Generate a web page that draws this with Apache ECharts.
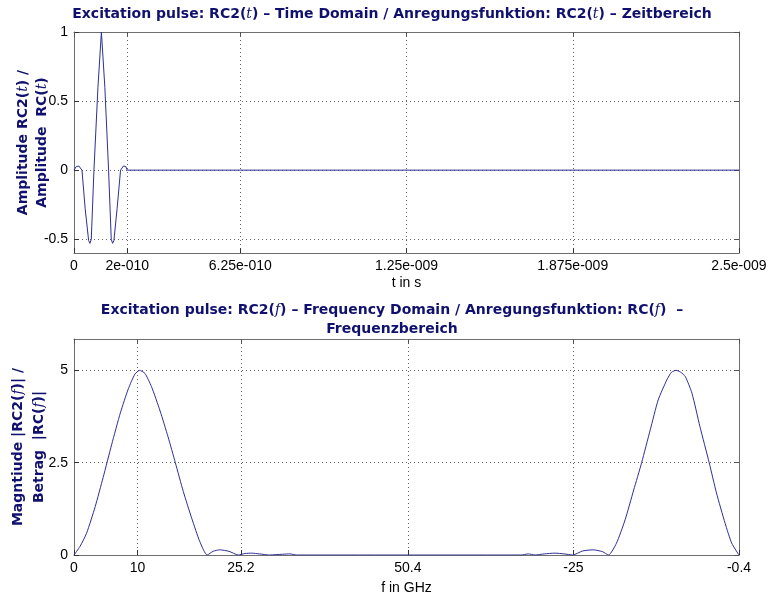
<!DOCTYPE html>
<html>
<head>
<meta charset="utf-8">
<script src="https://cdn.jsdelivr.net/npm/echarts@6/dist/echarts.min.js"></script>
<style>
  html, body { margin: 0; padding: 0; background: #fff; }
  #chart { width: 773px; height: 598px; }
</style>
</head>
<body>
<div id="chart"></div>
<script>
// time domain pulse RC2(t) (t in s)
const pulseTime = [0, 0.08e-10, 0.18e-10, 0.3e-10, 0.42e-10, 0.55e-10, 0.6e-10, 0.65e-10, 0.75e-10,
  0.9e-10, 1.03e-10, 1.16e-10, 1.3e-10, 1.4e-10, 1.45e-10, 1.5e-10, 1.62e-10, 1.75e-10,
  1.86e-10, 1.95e-10, 2.0e-10, 2.5e-9];
const pulseAmp = [0, 0.025, 0.03, 0, -0.28, -0.51, -0.53, -0.5, 0,
  0.6, 1.0, 0.6, 0, -0.5, -0.53, -0.51, -0.28, 0,
  0.03, 0.025, 0, 0];

// magnitude spectrum |RC2(f)|, f in GHz
const specFreq = [0, 0.9, 1.9, 3.2, 4.4, 5.7, 7.0, 8.2, 9.2, 9.9, 10.7, 11.7, 13.0, 14.2, 15.3,
  16.5, 17.8, 19.0, 20.1, 21.0, 22.0, 23.4, 24.8, 25.8, 26.8, 28.0, 29.5, 31.5, 32.6, 33.6,
  67.5, 68.6, 69.6, 71.0, 72.6, 74.0, 75.3, 76.8, 78.4, 79.8, 80.7, 81.9, 83.2, 84.5, 85.7,
  87.0, 88.2, 89.5, 90.2, 90.9, 91.6, 92.3, 93.3, 94.5, 95.9, 97.0, 98.3, 99.3, 100.4];
const specMag = [0, 0.23, 0.59, 1.31, 2.1, 3.0, 3.85, 4.5, 4.9, 5.0, 4.92, 4.56, 3.9, 3.2, 2.5,
  1.72, 0.98, 0.36, 0, 0.1, 0.14, 0.1, 0, 0.04, 0.05, 0.03, 0, 0.02, 0.03, 0,
  0, 0.03, 0, 0.03, 0.05, 0.03, 0, 0.11, 0.14, 0.09, 0, 0.32, 0.95, 1.76, 2.5,
  3.39, 4.2, 4.74, 4.95, 5.0, 4.95, 4.83, 4.38, 3.48, 2.5, 1.68, 0.86, 0.32, 0];

// tick positions and their labels
const timeTicks = [0, 2e-10, 6.25e-10, 1.25e-9, 1.875e-9, 2.5e-9];
const timeTickLabels = ['0', '2e-010', '6.25e-010', '1.25e-009', '1.875e-009', '2.5e-009'];
const ampTicks = [-0.5, 0, 0.5, 1];
const ampTickLabels = ['-0.5', '0', '0.5', '1'];
const freqTicks = [0, 9.6, 25.2, 50.4, 75.4, 100.4];
const freqTickLabels = ['0', '10', '25.2', '50.4', '-25', '-0.4'];
const magTicks = [0, 2.5, 5];
const magTickLabels = ['0', '2.5', '5'];

const navy = '#10106e';
const lineColor = '#2e2e96';
const frameColor = '#6e6e6e';
const titleFont = 'DejaVu Sans';

const italic = { fontStyle: 'italic', fontWeight: 'normal', fontFamily: 'DejaVu Serif', fontSize: 14, color: navy };

function labelFor(ticks, labels) {
  return v => {
    const i = ticks.findIndex(t => Math.abs(t - v) <= Math.abs(t) * 1e-6 + 1e-20);
    return i >= 0 ? labels[i] : '';
  };
}

function mainX(grid, min, max, ticks, labels, name, gap) {
  return {
    type: 'value', gridIndex: grid, min, max, position: 'bottom',
    name, nameLocation: 'middle', nameGap: gap, nameMoveOverlap: false,
    nameTextStyle: { fontFamily: 'Liberation Sans', fontSize: 14, color: '#000' },
    axisLine: { onZero: false, lineStyle: { color: frameColor } },
    axisTick: { inside: true, length: 5, customValues: ticks, lineStyle: { color: '#333' } },
    axisLabel: { customValues: ticks, formatter: labelFor(ticks, labels), margin: 6,
      fontFamily: 'Liberation Sans', fontSize: 14, color: '#000' },
    splitLine: { show: true, lineStyle: { color: '#666', type: [1, 3] } }
  };
}

function mirrorX(grid, min, max, ticks) {
  return {
    type: 'value', gridIndex: grid, min, max, position: 'top',
    axisLine: { onZero: false, lineStyle: { color: frameColor } },
    axisTick: { inside: true, length: 5, customValues: ticks, lineStyle: { color: '#555' } },
    axisLabel: { show: false },
    splitLine: { show: false }
  };
}

function mainY(grid, min, max, ticks, labels, name, gap, lh) {
  return {
    type: 'value', gridIndex: grid, min, max, position: 'left',
    name, nameLocation: 'middle', nameGap: gap, nameRotate: 90, nameMoveOverlap: false,
    nameTextStyle: { fontFamily: titleFont, fontWeight: 'bold', fontSize: 14, color: navy,
      lineHeight: lh, rich: { i: Object.assign({ lineHeight: lh }, italic) } },
    axisLine: { onZero: false, lineStyle: { color: frameColor } },
    axisTick: { inside: true, length: 5, customValues: ticks, lineStyle: { color: '#333' } },
    axisLabel: { customValues: ticks, formatter: labelFor(ticks, labels), margin: 6,
      fontFamily: 'Liberation Sans', fontSize: 14, color: '#000' },
    splitLine: { show: true, lineStyle: { color: '#666', type: [1, 3] } }
  };
}

function mirrorY(grid, min, max, ticks) {
  return {
    type: 'value', gridIndex: grid, min, max, position: 'right',
    axisLine: { onZero: false, lineStyle: { color: frameColor } },
    axisTick: { inside: true, length: 5, customValues: ticks, lineStyle: { color: '#555' } },
    axisLabel: { show: false },
    splitLine: { show: false }
  };
}

const chart = echarts.init(document.getElementById('chart'));
chart.setOption({
  backgroundColor: '#fff',
  animation: false,
  title: [
    {
      text: 'Excitation pulse: RC2({i|t}) – Time Domain / Anregungsfunktion: RC2({i|t}) – Zeitbereich',
      left: 392, top: 7, textAlign: 'center', padding: 0,
      textStyle: { fontFamily: titleFont, fontWeight: 'bold', fontSize: 14, color: navy, rich: { i: italic } }
    },
    {
      text: 'Excitation pulse: RC2({i|f}) – Frequency Domain / Anregungsfunktion: RC({i|f})  –\nFrequenzbereich',
      left: 392, top: 301, textAlign: 'center', padding: 0,
      textStyle: { fontFamily: titleFont, fontWeight: 'bold', fontSize: 14, color: navy,
        lineHeight: 19, rich: { i: italic } }
    }
  ],
  grid: [
    { left: 74, top: 32, width: 665, height: 221, outerBoundsMode: 'none' },
    { left: 74, top: 339, width: 665, height: 216, outerBoundsMode: 'none' }
  ],
  xAxis: [
    mainX(0, 0, 2.5e-9, timeTicks, timeTickLabels, 't in s', 23),
    mainX(1, 0, 100.4, freqTicks, freqTickLabels, 'f in GHz', 26),
    mirrorX(0, 0, 2.5e-9, timeTicks),
    mirrorX(1, 0, 100.4, freqTicks)
  ],
  yAxis: [
    mainY(0, -0.6, 1, ampTicks, ampTickLabels, 'Amplitude RC2({i|t}) /\nAmplitude  RC({i|t})', 22, 19),
    mainY(1, 0, 5.85, magTicks, magTickLabels, 'Magntiude |RC2({i|f})| /\nBetrag  |RC({i|f})|', 24, 21),
    mirrorY(0, -0.6, 1, ampTicks),
    mirrorY(1, 0, 5.85, magTicks)
  ],
  series: [
    {
      type: 'line', xAxisIndex: 0, yAxisIndex: 0, showSymbol: false,
      lineStyle: { color: lineColor, width: 1 },
      data: pulseTime.map((t, i) => [t, pulseAmp[i]])
    },
    {
      type: 'line', xAxisIndex: 1, yAxisIndex: 1, showSymbol: false, smooth: 0.2,
      lineStyle: { color: lineColor, width: 1 },
      data: specFreq.map((f, i) => [f, specMag[i]])
    }
  ]
});
</script>
</body>
</html>
